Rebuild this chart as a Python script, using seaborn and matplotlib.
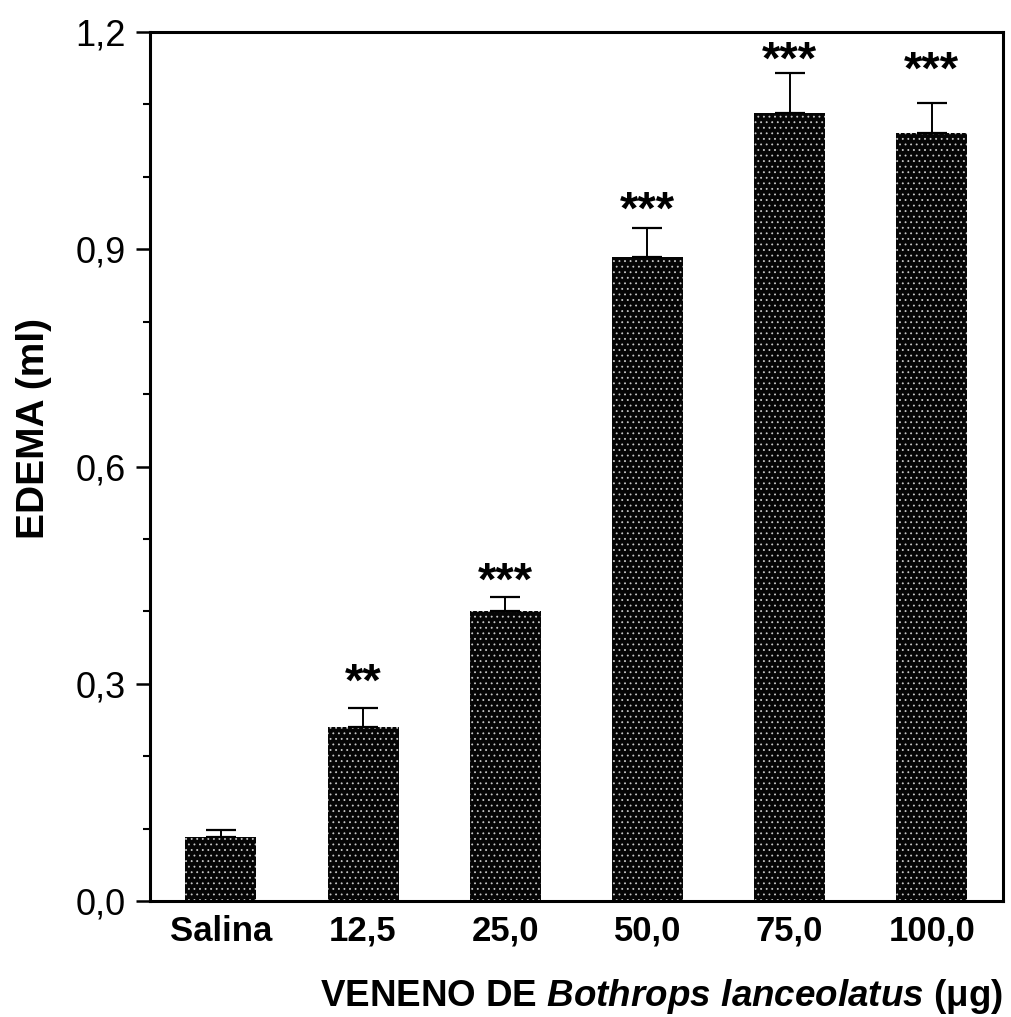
import numpy as np
import pandas as pd
import matplotlib
matplotlib.use("Agg")
import matplotlib.pyplot as plt
from matplotlib.ticker import MultipleLocator, FuncFormatter
import seaborn as sns

# dati
doses = ["Salina", "12,5", "25,0", "50,0", "75,0", "100,0"]
edema = [0.088, 0.240, 0.400, 0.890, 1.088, 1.060]
sem = [0.010, 0.026, 0.020, 0.040, 0.055, 0.042]
signif = ["", "**", "***", "***", "***", "***"]
star_pad = [0, 9, 1.5, 3, 0, 14]  # punti sopra la barra d'errore

sns.set_theme(style="white")
plt.rcParams['font.family'] = ['Liberation Sans', 'DejaVu Sans']
plt.rcParams['mathtext.fontset'] = 'custom'
plt.rcParams['mathtext.it'] = 'Liberation Sans:italic:bold'
plt.rcParams['mathtext.rm'] = 'Liberation Sans:bold'
plt.rcParams['hatch.linewidth'] = 0.6
for k in ['text.color', 'axes.labelcolor', 'xtick.color', 'ytick.color']:
    plt.rcParams[k] = 'black'

df = pd.DataFrame({"dose": doses, "edema": edema, "sem": sem})

fig = plt.figure(figsize=(10.12, 10.17), dpi=100)
ax = fig.add_axes([0.148, 0.114, 0.843, 0.8545])

sns.barplot(data=df, x="dose", y="edema", color="#050505", width=0.5,
            errorbar=None, ax=ax, saturation=1)
for p in ax.patches:
    p.set_hatch("...")
    p.set_edgecolor("#c8c8c8")
    p.set_linewidth(0)

x = np.arange(len(doses))
ax.errorbar(x, df["edema"], yerr=[np.zeros(len(sem)), df["sem"]], fmt="none",
            ecolor="black", elinewidth=1.4, capsize=11, capthick=1.6, zorder=3)

for xi, yi, ei, s, pad in zip(x, edema, sem, signif, star_pad):
    if s:
        ax.annotate(s, (xi, yi + ei), xytext=(0, pad), textcoords="offset points",
                    ha="center", va="baseline", fontsize=34, fontweight="bold")

ax.set_xlim(-0.5, 5.5)
ax.set_ylim(0, 1.2)
ax.yaxis.set_major_locator(MultipleLocator(0.3))
ax.yaxis.set_minor_locator(MultipleLocator(0.1))
ax.yaxis.set_major_formatter(FuncFormatter(lambda v, p: f"{v:.1f}".replace(".", ",")))
ax.tick_params(axis="y", which="major", direction="out", length=10, width=1.8,
               labelsize=26, pad=7, left=True)
ax.tick_params(axis="y", which="minor", direction="out", length=5, width=1.5, left=True)
ax.tick_params(axis="x", length=0, labelsize=25, pad=10)
for lab in ax.get_xticklabels():
    lab.set_fontweight("bold")

for sp in ax.spines.values():
    sp.set_visible(True)
    sp.set_color("black")
    sp.set_linewidth(2.2)

ax.set_ylabel("EDEMA (ml)", fontsize=28, fontweight="bold")
ax.yaxis.set_label_coords(-0.115, 0.544)
ax.set_xlabel(r"VENENO DE $\it{Bothrops\ lanceolatus}$ ($\mathrm{\mu}$g)",
              fontsize=26.5, fontweight="bold", loc="right", labelpad=21)

fig.savefig("out.png", dpi=100)
